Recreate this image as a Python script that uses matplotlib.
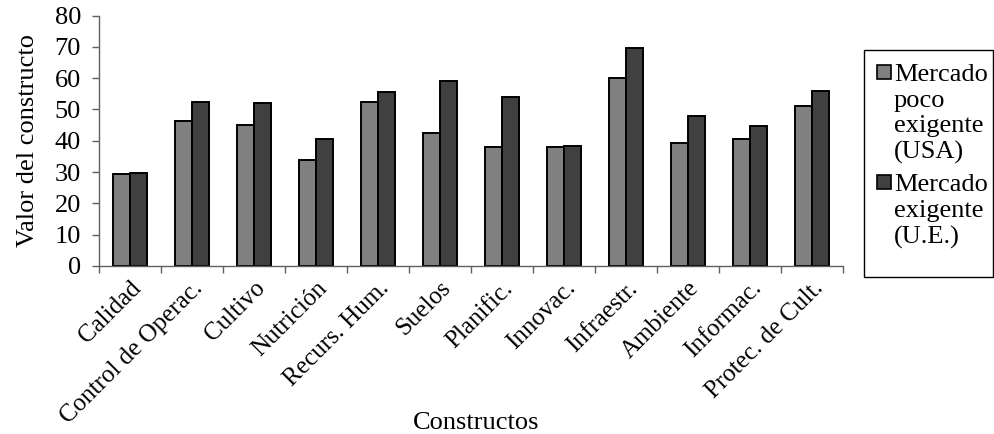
import numpy as np
import matplotlib.pyplot as plt
from matplotlib.patches import Rectangle

plt.rcParams['font.family'] = ['Liberation Serif', 'DejaVu Serif']

categories = ['Calidad', 'Control de Operac.', 'Cultivo', 'Nutrición', 'Recurs. Hum.',
              'Suelos', 'Planific.', 'Innovac.', 'Infraestr.', 'Ambiente',
              'Informac.', 'Protec. de Cult.']
usa = [29.3, 46.3, 44.9, 33.8, 52.3, 42.6, 38.0, 37.9, 60.0, 39.4, 40.6, 51.1]
ue = [29.7, 52.3, 51.9, 40.5, 55.6, 59.0, 54.1, 38.3, 69.5, 47.9, 44.6, 56.0]
series_labels = ['Mercado\npoco\nexigente\n(USA)', 'Mercado\nexigente\n(U.E.)']
yticks = [0, 10, 20, 30, 40, 50, 60, 70, 80]

W, H = 994, 434
fig = plt.figure(figsize=(W / 100, H / 100), dpi=100)
ax = fig.add_axes([99 / W, 168 / H, 744 / W, 250.5 / H])

x = np.arange(len(categories))
bw = 0.28
colors = ['#808080', '#404040']
ax.bar(x - bw / 2, usa, bw, color=colors[0], edgecolor='black', linewidth=1.4)
ax.bar(x + bw / 2, ue, bw, color=colors[1], edgecolor='black', linewidth=1.4)

ax.set_xlim(-0.5, len(categories) - 0.5)
ax.set_ylim(0, 80)
ax.set_yticks(yticks)
ax.set_xticks(x)
ax.set_xticklabels(categories, rotation=45, ha='right', va='top', rotation_mode='anchor')
ax.set_xticks(np.arange(len(categories) + 1) - 0.5, minor=True)

for s in ['top', 'right']:
    ax.spines[s].set_visible(False)
for s in ['left', 'bottom']:
    ax.spines[s].set_color('#606060')
    ax.spines[s].set_linewidth(1.0)

ax.tick_params(axis='x', which='major', length=0, pad=8, labelsize=18)
ax.tick_params(axis='x', which='minor', length=5, width=1, color='#606060', direction='out')
ax.tick_params(axis='y', length=5, width=1, color='#606060', direction='out', pad=8, labelsize=19)

ax.set_ylabel('Valor del constructo', fontsize=19)
ax.yaxis.set_label_coords(-0.081, 0.5)
ax.set_xlabel('Constructos', fontsize=19, va='top')
ax.xaxis.set_label_coords(0.507, -0.583)

# legend box drawn by hand so the swatch sits on the first text line
fig.patches.append(Rectangle((864 / W, 1 - 277 / H), 129 / W, 227 / H,
                             transform=fig.transFigure, facecolor='white',
                             edgecolor='black', linewidth=1.0))
for lab, col, top in zip(series_labels, colors, [64, 174]):
    fig.patches.append(Rectangle((877 / W, 1 - (top + 15) / H), 14 / W, 14 / H,
                                 transform=fig.transFigure, facecolor=col,
                                 edgecolor='black', linewidth=1.2))
    fig.text(894 / W, 1 - top / H, lab, ha='left', va='top', fontsize=19, linespacing=1.22)

plt.savefig('out.png', dpi=100)
